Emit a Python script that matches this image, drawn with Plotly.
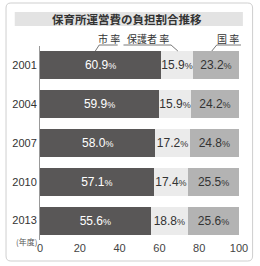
import plotly.graph_objects as go

years = ["2001", "2004", "2007", "2010", "2013"]
city = [60.9, 59.9, 58.0, 57.1, 55.6]
parents = [15.9, 15.9, 17.2, 17.4, 18.8]
national = [23.2, 24.2, 24.8, 25.5, 25.6]
x_ticks = [0, 20, 40, 60, 80, 100]
title = "保育所運営費の負担割合推移"
series_names = ["市 率", "保護者 率", "国 率"]

FONT = "Liberation Sans, Noto Sans CJK JP"
JP = "Noto Sans CJK JP"
W, H = 260, 266
L, R, T, B = 38, 17, 46, 26
PW, PH = W - L - R, H - T - B


def px(p):
    return (p - L) / PW


def py(p):
    return (H - B - p) / PH


def label(v):
    return f"{v:.1f}<span style='font-size:9px'>%</span>"


fig = go.Figure()
colors = ["#595757", "#ebebeb", "#b3b3b3"]
txtcol = ["#ffffff", "#333333", "#333333"]
for vals, c, tc, nm in zip([city, parents, national], colors, txtcol, series_names):
    fig.add_trace(go.Bar(
        y=years, x=vals, orientation="h", name=nm,
        marker=dict(color=c, line=dict(width=0)),
        text=[label(v) for v in vals], textposition="inside",
        insidetextanchor="middle",
        textfont=dict(color=tc, size=12, family=FONT),
        width=0.72, hoverinfo="skip",
    ))

shapes = []
# card border with rounded corners
x0, x1, y0, y1 = 3, 257, 3, 261
r = 5
path = (f"M {px(x0+r)},{py(y0)} L {px(x1-r)},{py(y0)} Q {px(x1)},{py(y0)} {px(x1)},{py(y0+r)} "
        f"L {px(x1)},{py(y1-r)} Q {px(x1)},{py(y1)} {px(x1-r)},{py(y1)} "
        f"L {px(x0+r)},{py(y1)} Q {px(x0)},{py(y1)} {px(x0)},{py(y1-r)} "
        f"L {px(x0)},{py(y0+r)} Q {px(x0)},{py(y0)} {px(x0+r)},{py(y0)} Z")
shapes.append(dict(type="path", xref="paper", yref="paper", path=path,
                   line=dict(color="#cfcfcf", width=1), layer="below"))
# title band
shapes.append(dict(type="rect", xref="paper", yref="paper",
                   x0=px(12), x1=px(247), y0=py(26), y1=py(12),
                   fillcolor="#e3e3e3", line=dict(width=0), layer="below"))
# leader lines for series labels
lc = dict(color="#555555", width=0.8)
for pts in [[(118, 45), (99, 45), (95, 51)],
            [(124, 45), (173, 45), (180, 51)],
            [(245, 45), (220, 45), (215, 51)]]:
    p = "M " + " L ".join(f"{px(a)},{py(b)}" for a, b in pts)
    shapes.append(dict(type="path", xref="paper", yref="paper", path=p, line=lc))

annotations = [
    dict(text=f"<b>{title}</b>", x=px(128), y=py(19), xref="paper", yref="paper",
         showarrow=False, font=dict(size=11.5, color="#333333", family=JP),
         xanchor="center", yanchor="middle"),
    dict(text="(年度)", x=px(37), y=py(241), xref="paper", yref="paper",
         showarrow=False, font=dict(size=8, color="#555555", family=JP),
         xanchor="right", yanchor="middle"),
]
for nm, cx in zip(series_names, [109, 149, 232]):
    annotations.append(dict(text=nm, x=px(cx), y=py(39), xref="paper", yref="paper",
                            showarrow=False, xanchor="center", yanchor="middle",
                            font=dict(size=10, color="#333333", family=JP)))

fig.update_layout(
    width=W, height=H, margin=dict(l=L, r=R, t=T, b=B),
    barmode="stack", bargap=0.28, showlegend=False,
    paper_bgcolor="white", plot_bgcolor="white",
    font=dict(family=FONT, color="#333333"),
    uniformtext=dict(minsize=11, mode="show"),
    shapes=shapes, annotations=annotations,
    xaxis=dict(range=[0, 100], tickvals=x_ticks, showgrid=False, zeroline=False,
               showline=False, ticks="", tickfont=dict(size=11, color="#444444"),
               fixedrange=True),
    yaxis=dict(categoryorder="array", categoryarray=years, autorange="reversed",
               showgrid=False, zeroline=False, showline=True, linecolor="#999999",
               linewidth=1, ticks="", tickfont=dict(size=11, color="#333333"),
               fixedrange=True),
)

fig.write_html("out.html", config={"displayModeBar": False})
